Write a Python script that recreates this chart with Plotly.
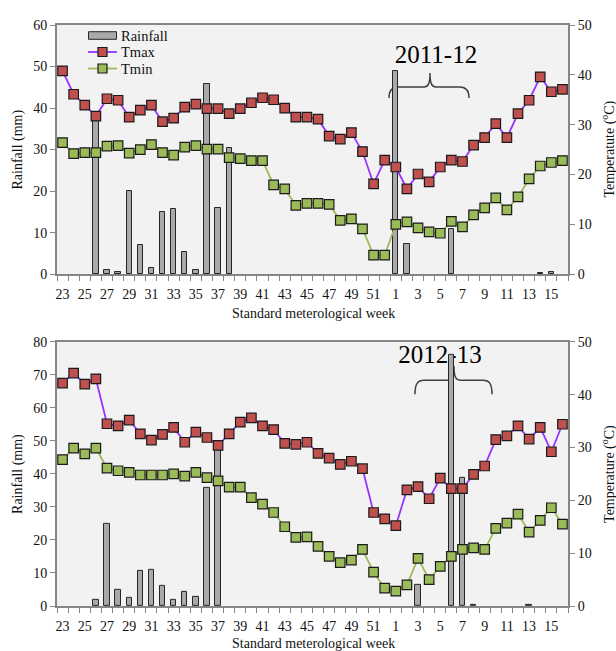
import plotly.graph_objects as go

weeks = [str(w) for w in list(range(23, 53)) + list(range(1, 17))]

rain_1112 = [0, 0, 0, 39, 1, 0.5, 20, 7, 1.5, 15, 15.7, 5.3, 1.1, 45.7, 16, 30.4,
             0, 0, 0, 0, 0, 0, 0, 0, 0, 0, 0, 0, 0, 0,
             49, 7.3, 0, 0, 0, 10.8, 0, 0, 0, 0, 0, 0, 0, 0.2, 0.5, 0]
tmax_1112 = [40.8, 36.1, 33.9, 31.7, 35.2, 34.9, 31.5, 32.9, 33.9, 30.6, 31.3, 33.5, 34.1, 33.2, 33.2,
             32.2, 33.2, 34.4, 35.4, 35.0, 33.3, 31.5, 31.5, 31.1, 27.7, 27.1, 28.4, 24.6, 18.1, 22.9,
             21.5, 17.1, 20.1, 18.5, 21.5, 22.9, 22.6, 25.9, 27.4, 30.2, 27.4, 32.2, 34.9, 39.6, 36.6, 37.1]
tmin_1112 = [26.4, 24.2, 24.4, 24.4, 25.7, 25.8, 24.3, 25.0, 26.0, 24.4, 23.9, 25.5, 25.8, 25.1, 25.1,
             23.4, 23.2, 22.8, 22.8, 17.9, 17.1, 13.8, 14.2, 14.2, 14.0, 10.8, 11.1, 9.1, 3.8, 3.8,
             10.0, 10.5, 9.3, 8.5, 8.2, 10.6, 9.5, 11.9, 13.3, 15.3, 12.9, 15.5, 19.1, 21.7, 22.4, 22.8]

rain_1213 = [0, 0, 0, 2.0, 25.0, 5.0, 2.4, 10.7, 11.0, 6.1, 2.0, 4.3, 2.7, 35.9, 48.2,
             0, 0, 0, 0, 0, 0, 0, 0, 0, 0, 0, 0, 0, 0, 0,
             0, 0, 6.5, 0, 0, 76, 38.8, 0.4, 0, 0, 0, 0, 0.2, 0, 0, 0]
tmax_1213 = [42.2, 44.1, 42.0, 43.0, 34.5, 34.1, 35.2, 32.6, 31.4, 32.5, 33.8, 31.0, 32.9, 31.9, 30.4,
             32.6, 34.8, 35.6, 34.1, 33.4, 30.8, 30.6, 31.0, 28.9, 28.0, 26.8, 27.4, 26.0, 17.7, 16.5,
             15.2, 22.0, 22.6, 20.3, 24.2, 22.2, 22.2, 24.9, 26.5, 31.5, 32.2, 34.1, 31.6, 33.8, 29.2, 34.4]
tmin_1213 = [27.7, 29.9, 28.8, 29.9, 26.1, 25.6, 25.3, 24.8, 24.8, 24.8, 25.0, 24.6, 25.3, 24.3, 23.7,
             22.5, 22.5, 20.5, 19.3, 17.7, 15.0, 13.0, 13.1, 11.3, 9.4, 8.2, 8.7, 10.7, 6.4, 3.4,
             2.8, 4.0, 9.0, 5.0, 7.5, 9.4, 10.7, 11.0, 10.7, 14.7, 15.7, 17.4, 14.0, 16.2, 18.6, 15.5]

season_labels = ["2011-12", "2012-13"]
series_names = ["Rainfall", "Tmax", "Tmin"]

FONT = "Liberation Serif"
GRAY = "#868686"
TMAX_LINE = "#9933ff"
TMAX_FILL = "#c0504d"
TMIN_COL = "#9bbb59"
BAR_FILL = "#a9a9a9"
BAR_EDGE = "#262626"
MK_EDGE = "#1a1a1a"

W, H = 616, 651
ML, MR, MT, MB = 57, 48, 25, 45.3
PW = W - ML - MR
PH = H - MT - MB


def px(xp):
    return (xp - ML) / PW


def py(yp):
    return (H - MB - yp) / PH


x = list(range(len(weeks)))

fig = go.Figure()

panels = [
    (rain_1112, tmax_1112, tmin_1112, "x", "y", "y2"),
    (rain_1213, tmax_1213, tmin_1213, "x2", "y3", "y4"),
]
for rain, tmax, tmin, xa, ya, ya2 in panels:
    fig.add_trace(go.Bar(x=x, y=[v if v > 0 else None for v in rain], xaxis=xa, yaxis=ya,
                         width=0.48, name=series_names[0],
                         marker=dict(color=BAR_FILL, line=dict(color=BAR_EDGE, width=1)),
                         showlegend=False))
    fig.add_trace(go.Scatter(x=x, y=tmax, xaxis=xa, yaxis=ya2, mode="lines+markers",
                             name=series_names[1], line=dict(color=TMAX_LINE, width=1.8),
                             marker=dict(symbol="square", size=9.5, color=TMAX_FILL,
                                         line=dict(color=MK_EDGE, width=1.2)),
                             showlegend=False))
    fig.add_trace(go.Scatter(x=x, y=tmin, xaxis=xa, yaxis=ya2, mode="lines+markers",
                             name=series_names[2], line=dict(color=TMIN_COL, width=1.8),
                             marker=dict(symbol="square", size=9.5, color=TMIN_COL,
                                         line=dict(color=MK_EDGE, width=1.2)),
                             showlegend=False))

tick_font = dict(family=FONT, size=14, color="#111")
xcommon = dict(range=[-0.5, len(weeks) - 0.5], tickmode="array",
               tickvals=x[::2], ticktext=weeks[::2], ticks="outside", ticklen=6,
               tickcolor="rgba(0,0,0,0)", showline=True, linecolor=GRAY, linewidth=1.5,
               mirror=True, showgrid=False, zeroline=False, tickfont=tick_font,
               minor=dict(tickmode="array", tickvals=[i - 0.5 for i in range(len(weeks) + 1)],
                          ticks="outside", ticklen=5, tickcolor=GRAY, tickwidth=1))
ycommon = dict(showline=True, linecolor=GRAY, linewidth=2, ticks="outside", ticklen=5,
               tickcolor=GRAY, showgrid=False, zeroline=False, tickfont=tick_font)

top_bottom = py(274)
bot_top = py(341.7)

fig.update_layout(
    width=W, height=H,
    margin=dict(l=ML, r=MR, t=MT, b=MB),
    paper_bgcolor="white", plot_bgcolor="#f2f2f2",
    bargap=0, showlegend=False,
    font=dict(family=FONT, size=14, color="#111"),
    xaxis=dict(domain=[0, 1], anchor="y", **xcommon),
    xaxis2=dict(domain=[0, 1], anchor="y3", **xcommon),
    yaxis=dict(domain=[top_bottom, 1], anchor="x", range=[0, 60], dtick=10, **ycommon),
    yaxis2=dict(overlaying="y", side="right", anchor="x", range=[0, 50], dtick=10, **ycommon),
    yaxis3=dict(domain=[0, bot_top], anchor="x2", range=[0, 80], dtick=10, **ycommon),
    yaxis4=dict(overlaying="y3", side="right", anchor="x2", range=[0, 50], dtick=10, **ycommon),
)

annotations = []
title_font = dict(family=FONT, size=14, color="#111")
for (ytop, ybot, rtitle) in [(25, 274, "Temperatute (<sup>o</sup>C)"),
                              (341.7, 605.7, "Temperature (<sup>o</sup>C)")]:
    yc = (ytop + ybot) / 2
    annotations.append(dict(x=px(18), y=py(yc), xref="paper", yref="paper", text="Rainfall (mm)",
                            textangle=-90, showarrow=False, font=title_font,
                            xanchor="center", yanchor="middle"))
    annotations.append(dict(x=px(609), y=py(yc), xref="paper", yref="paper", text=rtitle,
                            textangle=-90, showarrow=False, font=title_font,
                            xanchor="center", yanchor="middle"))
for yp in (313, 643):
    annotations.append(dict(x=px(313), y=py(yp), xref="paper", yref="paper",
                            text="Standard meterological week", showarrow=False, font=title_font,
                            xanchor="center", yanchor="middle"))

# manual legend (top panel)
shapes = []
leg_rows = [35.5, 52, 68.5]
for name, yy in zip(series_names, leg_rows):
    annotations.append(dict(x=px(119), y=py(yy), xref="paper", yref="paper", text=name,
                            showarrow=False, font=dict(family=FONT, size=14.5, color="#111"),
                            xanchor="left", yanchor="middle"))
shapes.append(dict(type="rect", xref="paper", yref="paper",
                   x0=px(88.5), x1=px(116.5), y0=py(leg_rows[0] + 3.8), y1=py(leg_rows[0] - 3.8),
                   fillcolor=BAR_FILL, line=dict(color=BAR_EDGE, width=1)))
for yy, lc, fc in [(leg_rows[1], TMAX_LINE, TMAX_FILL), (leg_rows[2], TMIN_COL, TMIN_COL)]:
    shapes.append(dict(type="line", xref="paper", yref="paper",
                       x0=px(88), x1=px(117), y0=py(yy), y1=py(yy),
                       line=dict(color=lc, width=1.8)))
    shapes.append(dict(type="rect", xref="paper", yref="paper",
                       x0=px(98), x1=px(107), y0=py(yy + 4.5), y1=py(yy - 4.5),
                       fillcolor=fc, line=dict(color=MK_EDGE, width=1.2)))


def brace_path(x0, x1, tipx, ybase, ytop, ytip):
    pts = [
        ("M", [(x0, ybase)]),
        ("C", [(x0, ytop + 3), (x0 + 3, ytop), (x0 + 9, ytop)]),
        ("L", [(tipx - 6, ytop)]),
        ("C", [(tipx - 2, ytop), (tipx, ytop - 3), (tipx, ytip)]),
        ("C", [(tipx, ytop - 3), (tipx + 2, ytop), (tipx + 6, ytop)]),
        ("L", [(x1 - 9, ytop)]),
        ("C", [(x1 - 3, ytop), (x1, ytop + 3), (x1, ybase)]),
    ]
    s = ""
    for cmd, ps in pts:
        s += cmd + " " + " ".join(f"{px(a):.5f},{py(b):.5f}" for a, b in ps) + " "
    return s.strip()


shapes += [
    dict(type="path", xref="paper", yref="paper", layer="below",
         path=brace_path(389, 469, 430, 98, 87, 73), line=dict(color="#404040", width=1.5)),
    dict(type="path", xref="paper", yref="paper", layer="below",
         path=brace_path(415, 492, 454, 394, 380, 366), line=dict(color="#404040", width=1.5)),
]
for label, (cx, cy) in zip(season_labels, [(436, 51), (440, 351)]):
    shapes.append(dict(type="rect", xref="paper", yref="paper", layer="below",
                       x0=px(cx - 45), x1=px(cx + 45), y0=py(cy + 14), y1=py(cy - 14),
                       line=dict(width=0), fillcolor="rgba(0,0,0,0)",
                       label=dict(text=label, textposition="middle center",
                                  font=dict(family=FONT, size=25, color="#000"))))
fig.update_layout(annotations=annotations, shapes=shapes)

fig.write_html("out.html")
